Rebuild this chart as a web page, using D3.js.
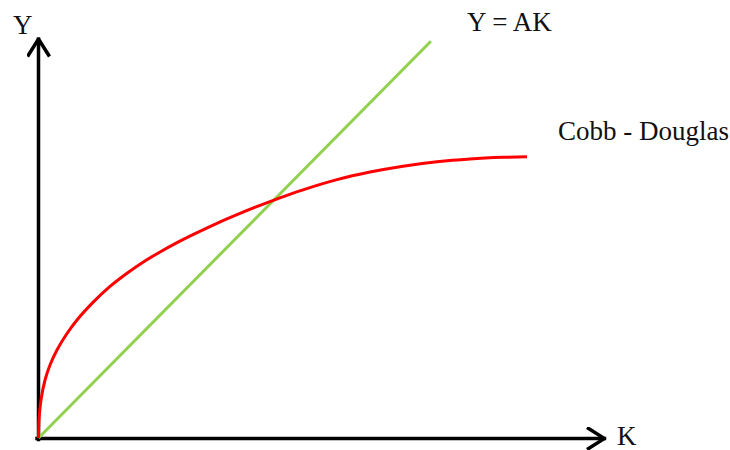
<!DOCTYPE html>
<html>
<head>
<meta charset="utf-8">
<script src="https://cdn.jsdelivr.net/npm/d3@7"></script>
<style>
  html, body { margin: 0; padding: 0; background: #fff; }
  svg { display: block; }
  text { font-family: "Liberation Serif", "Times New Roman", serif; fill: #111; }
</style>
</head>
<body>
<svg id="chart" width="730" height="450"></svg>
<script>
// Capital (K) and output (Y) in arbitrary units, 0–100 on each axis
const akK = [0, 69.2];
const akY = [0, 99.2];

const cdK = [0, 0.09, 0.44, 1.15, 2.03, 3.26, 4.85, 6.79, 9.61, 12.61, 15.61, 18.43, 21.43, 24.43,
             27.6, 31.48, 35.54, 39.07, 42.24, 46.65, 52.65, 58.47, 64.29, 70.28, 76.1, 81.92, 86.16];
const cdY = [0, 4.5, 9.5, 14.5, 18.25, 22, 25.75, 29.5, 33.9, 37.9, 41.2, 43.95, 46.5, 48.84,
             51.09, 53.68, 56.15, 58.15, 59.85, 62.04, 64.59, 66.48, 67.95, 69.05, 69.75, 70.16, 70.31];

const axisLabels = { x: "K", y: "Y" };
const curveLabels = { ak: "Y = AK", cd: "Cobb - Douglas" };

const svg = d3.select("#chart");

const x = d3.scaleLinear().domain([0, 100]).range([38.5, 605.5]);
const y = d3.scaleLinear().domain([0, 100]).range([438, 38]);

// Open chevron arrowheads for the axes
const defs = svg.append("defs");
defs.append("marker")
  .attr("id", "arrow")
  .attr("viewBox", "0 0 20 24")
  .attr("refX", 18.5).attr("refY", 12)
  .attr("markerUnits", "userSpaceOnUse")
  .attr("markerWidth", 20).attr("markerHeight", 24)
  .attr("orient", "auto")
  .append("path")
  .attr("d", "M1,1 L18.5,12 L1,23")
  .attr("fill", "none")
  .attr("stroke", "#000")
  .attr("stroke-width", 3.5)
  .attr("stroke-linejoin", "miter");

// Axes: plain lines with no ticks
const xAxis = d3.axisBottom(x).tickValues([]).tickSizeOuter(0);
const yAxis = d3.axisLeft(y).tickValues([]).tickSizeOuter(0);

const gx = svg.append("g").attr("transform", `translate(0,${y(0)})`).call(xAxis);
const gy = svg.append("g").attr("transform", `translate(${x(0)},0)`).call(yAxis);

[gx, gy].forEach(g => {
  g.select(".domain")
    .attr("stroke", "#000")
    .attr("stroke-width", 3.5)
    .attr("stroke-linecap", "square");
});
gx.select(".domain").attr("d", `M${x(0) - 1.5},0.5H${x(100) - 1}`).attr("marker-end", "url(#arrow)");
gy.select(".domain").attr("d", `M0,${y(0) + 1.5}V${y(100) + 1}`).attr("marker-end", "url(#arrow)");

// Y = AK straight line
const line = d3.line().x(d => x(d[0])).y(d => y(d[1]));
svg.append("path")
  .datum(akK.map((k, i) => [k, akY[i]]))
  .attr("d", line)
  .attr("fill", "none")
  .attr("stroke", "#92d050")
  .attr("stroke-width", 3);

// Cobb-Douglas curve
svg.append("path")
  .datum(cdK.map((k, i) => [k, cdY[i]]))
  .attr("d", line.curve(d3.curveCatmullRom.alpha(0.5)))
  .attr("fill", "none")
  .attr("stroke", "#ff0000")
  .attr("stroke-width", 3);

// Labels
const fs = 27;
svg.append("text").attr("x", 13).attr("y", 34).attr("font-size", fs).text(axisLabels.y);
svg.append("text").attr("x", 617).attr("y", 445).attr("font-size", fs).text(axisLabels.x);
svg.append("text").attr("x", 467).attr("y", 31).attr("font-size", fs).text(curveLabels.ak);
svg.append("text").attr("x", 558).attr("y", 140).attr("font-size", fs).text(curveLabels.cd);
</script>
</body>
</html>
